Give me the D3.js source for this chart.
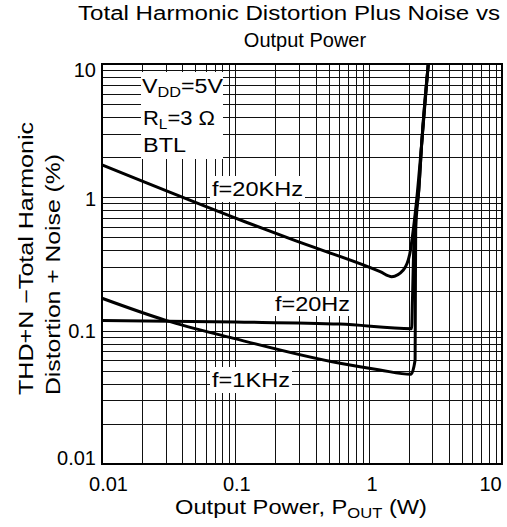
<!doctype html>
<html>
<head>
<meta charset="UTF-8">
<title>THD+N vs Output Power</title>
<script src="https://d3js.org/d3.v7.min.js"></script>
<style>
  body { margin: 0; background: #fff; }
  text { font-family: "Liberation Sans", Arial, sans-serif; fill: #000; }
</style>
</head>
<body>
<script>
// axis ticks
var xTicks = [0.01, 0.1, 1, 10];
var yTicks = [0.01, 0.1, 1, 10];

// f=20KHz
var p20k = [0.01, 0.118, 0.272, 1.22, 1.49, 1.82, 2.04, 2.16, 2.30, 2.50, 2.80];
var t20k = [1.75, 0.656, 0.479, 0.277, 0.254, 0.285, 0.382, 0.569, 1.0, 2.556, 10];
// f=20Hz
var p20 = [0.01, 0.1, 0.61, 2.10, 2.13, 2.20, 2.377, 2.50, 2.80];
var t20 = [0.119, 0.116, 0.112, 0.1035, 0.17, 0.569, 1.135, 2.556, 10];
// f=1KHz
var p1k = [0.01, 0.0305, 0.0912, 0.61, 1.216, 2.07, 2.23, 2.24, 2.253, 2.377, 2.50, 2.80];
var t1k = [0.175, 0.119, 0.089, 0.0569, 0.0507, 0.0471, 0.0603, 0.17, 0.569, 1.135, 2.556, 10];

var w = 507, h = 527;
var pl = 102, pr = 502, pt = 64, pb = 464;

var svg = d3.select("body").append("svg").attr("width", w).attr("height", h);

var x = d3.scaleLog().domain([0.01, 10]).range([pl, pr]);
var y = d3.scaleLog().domain([0.01, 10]).range([pb, pt]);

// grid lines, 1..9 in every decade
var grid = [];
[0.01, 0.1, 1].forEach(function (d) {
  for (var k = 1; k <= 9; k++) grid.push(d * k);
});
grid.push(10);

var g = svg.append("g");
g.selectAll(".vg").data(grid).enter().append("line")
  .attr("x1", function (d) { return Math.round(x(d)) + 0.5; })
  .attr("x2", function (d) { return Math.round(x(d)) + 0.5; })
  .attr("y1", pt).attr("y2", pb)
  .attr("stroke", "#111").attr("stroke-width", 1);
g.selectAll(".hg").data(grid).enter().append("line")
  .attr("y1", function (d) { return Math.round(y(d)) + 0.5; })
  .attr("y2", function (d) { return Math.round(y(d)) + 0.5; })
  .attr("x1", pl).attr("x2", pr)
  .attr("stroke", "#111").attr("stroke-width", 1);

// boxed labels (white background hides the grid)
function boxed(parent, px, py, label, len, pad) {
  var gg = parent.append("g");
  var t = gg.append("text").attr("x", px).attr("y", py).attr("font-size", 20)
    .attr("textLength", len).attr("lengthAdjust", "spacingAndGlyphs").text(label);
  var b = t.node().getBBox();
  gg.insert("rect", "text")
    .attr("x", b.x - pad[0]).attr("y", b.y - pad[1])
    .attr("width", b.width + 2 * pad[0]).attr("height", b.height + 2 * pad[1])
    .attr("fill", "#fff");
  return gg;
}

// parameter block
var ann = svg.append("g");
ann.append("rect").attr("x", 141).attr("y", 72).attr("width", 82).attr("height", 87).attr("fill", "#fff");
var a1 = ann.append("text").attr("x", 142).attr("y", 93).attr("font-size", 20)
  .attr("textLength", 81).attr("lengthAdjust", "spacingAndGlyphs");
a1.append("tspan").text("V");
a1.append("tspan").text("DD").attr("font-size", 14).attr("dy", 4);
a1.append("tspan").text("=5V").attr("dy", -4);
var a2 = ann.append("text").attr("x", 143).attr("y", 125).attr("font-size", 20)
  .attr("textLength", 72).attr("lengthAdjust", "spacingAndGlyphs");
a2.append("tspan").text("R");
a2.append("tspan").text("L").attr("font-size", 14).attr("dy", 4);
a2.append("tspan").text("=3 \u03A9").attr("dy", -4);
ann.append("text").attr("x", 143).attr("y", 152).attr("font-size", 20)
  .attr("textLength", 43).attr("lengthAdjust", "spacingAndGlyphs").text("BTL");

boxed(svg, 212, 196, "f=20KHz", 91, [2, 2]);
boxed(svg, 275, 311, "f=20Hz", 75, [2, 1]);
boxed(svg, 212, 387, "f=1KHz", 78, [2, 2]);

// curves
var line = d3.line()
  .x(function (d) { return x(d[0]); })
  .y(function (d) { return y(d[1]); })
  .curve(d3.curveMonotoneX);

[[p20k, t20k], [p20, t20], [p1k, t1k]].forEach(function (s) {
  svg.append("path")
    .datum(d3.zip(s[0], s[1]))
    .attr("d", line)
    .attr("fill", "none")
    .attr("stroke", "#000")
    .attr("stroke-width", 3)
    .attr("stroke-linejoin", "round");
});

// frame
svg.append("rect").attr("x", pl).attr("y", pt)
  .attr("width", pr - pl).attr("height", pb - pt)
  .attr("fill", "none").attr("stroke", "#000").attr("stroke-width", 2);

// axes
var xShift = { 0.01: 6, 0.1: 1, 1: 3, 10: -12 };
var xa = svg.append("g").attr("transform", "translate(0," + pb + ")")
  .call(d3.axisBottom(x).tickValues(xTicks).tickSize(0).tickPadding(13)
    .tickFormat(function (d) { return String(d); }));
xa.select(".domain").remove();
xa.selectAll("text").attr("font-size", 20).attr("font-family", null)
  .attr("dx", function (d) { return xShift[d]; });

var yShift = { 0.01: -6, 0.1: 0, 1: 2, 10: 6 };
var ya = svg.append("g").attr("transform", "translate(" + pl + ",0)")
  .call(d3.axisLeft(y).tickValues(yTicks).tickSize(0).tickPadding(6)
    .tickFormat(function (d) { return String(d); }));
ya.select(".domain").remove();
ya.selectAll("text").attr("font-size", 20).attr("font-family", null)
  .attr("dy", function (d) { return (0.32 * 20 + yShift[d]) + "px"; });

// titles
svg.append("text").attr("x", 289).attr("y", 20).attr("text-anchor", "middle")
  .attr("font-size", 20).attr("textLength", 422).attr("lengthAdjust", "spacingAndGlyphs")
  .text("Total Harmonic Distortion Plus Noise vs");
svg.append("text").attr("x", 305).attr("y", 47).attr("text-anchor", "middle")
  .attr("font-size", 20)
  .text("Output Power");

var xt = svg.append("text").attr("x", 175).attr("y", 514).attr("font-size", 20)
  .attr("textLength", 252).attr("lengthAdjust", "spacingAndGlyphs");
xt.append("tspan").text("Output Power, P");
xt.append("tspan").text("OUT").attr("font-size", 14).attr("dy", 4);
xt.append("tspan").text(" (W)").attr("dy", -4);

svg.append("text").attr("transform", "translate(33,395) rotate(-90)")
  .attr("font-size", 20).attr("textLength", 273).attr("lengthAdjust", "spacingAndGlyphs")
  .text("THD+N \u2212Total Harmonic");
svg.append("text").attr("transform", "translate(60,395) rotate(-90)")
  .attr("font-size", 20).attr("textLength", 241).attr("lengthAdjust", "spacingAndGlyphs")
  .text("Distortion + Noise (%)");
</script>
</body>
</html>
